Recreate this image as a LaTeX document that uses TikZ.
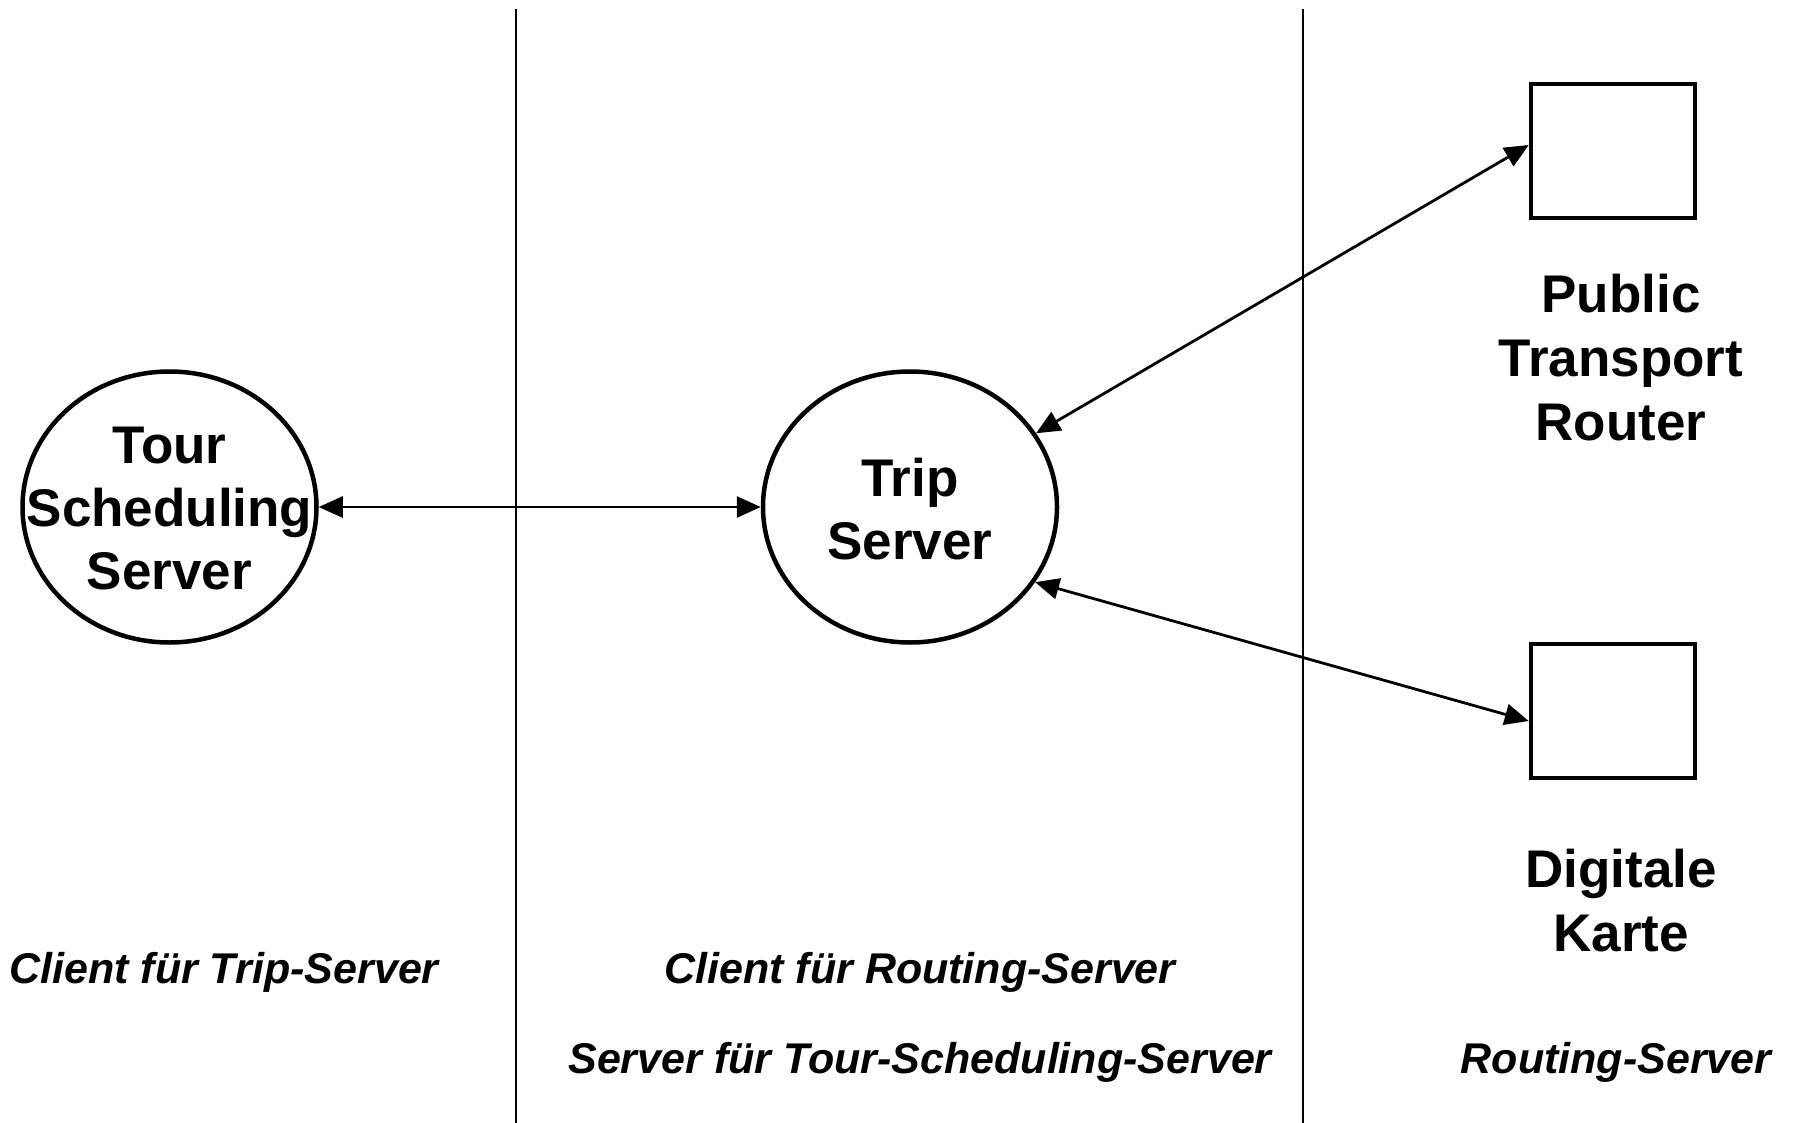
\documentclass[tikz,border=0pt]{standalone}
\usepackage{fontspec}
\setmainfont{Liberation Sans}
\usetikzlibrary{arrows.meta,shapes.geometric,calc}

\begin{document}
\begin{tikzpicture}[x=1pt,y=-1pt,
  lane/.style={line width=1.5pt},
  proc/.style={ellipse, draw, line width=4.5pt, minimum width=294pt,
    minimum height=271pt, inner sep=0pt},
  proctext/.style={align=center, inner sep=0pt,
    font=\bfseries\fontsize{53}{63}\selectfont},
  store/.style={draw, line width=4.5pt, minimum width=164pt,
    minimum height=134pt, inner sep=0pt},
  lbl/.style={align=center, inner sep=0pt,
    font=\bfseries\fontsize{53}{64}\selectfont},
  role/.style={anchor=base, inner sep=0pt,
    font=\bfseries\itshape\fontsize{43}{50}\selectfont},
  link/.style={line width=2.8pt,
    {Triangle[length=24pt,width=21pt]}-{Triangle[length=24pt,width=21pt]}}]

\useasboundingbox (0,0) rectangle (1795,1123);

% lane separators
\coordinate (l1t) at (516,9);
\coordinate (l1b) at (516,1123);
\coordinate (l2t) at (1303,9);
\coordinate (l2b) at (1303,1123);
\draw[lane] (l1t) -- (l1b);
\draw[lane] (l2t) -- (l2b);

% processes
\node[proc] (tss) at (169.5,507) {};
\node[proctext] (tsst) at ($(tss.center)+(0,2)$) {Tour\\Scheduling\\Server};
\node[proc] (trip) at (910,507) {};
\node[proctext] (tript) at ($(trip.center)+(0,2)$) {Trip\\Server};

% routing back ends
\node[store] (ptr) at (1613,151) {};
\node[store] (dk) at (1613,711) {};
\node[lbl] (ptrl) at (1621,358) {Public\\Transport\\Router};
\node[lbl] (dkl) at (1621,901) {Digitale\\Karte};

% connections
\draw[link] (tss) -- (trip);
\draw[link] (trip) -- ($(ptr.west)+(0,-6)$);
\draw[link] (trip.-31) -- ($(dk.west)+(0,10)$);

% roles
\node[role] (r1) at (224,983) {Client für Trip-Server};
\node[role] (r2) at (920,983) {Client für Routing-Server};
\node[role] (r3) at (920,1073) {Server für Tour-Scheduling-Server};
\node[role] (r4) at (1616,1073) {Routing-Server};
\end{tikzpicture}
\end{document}
